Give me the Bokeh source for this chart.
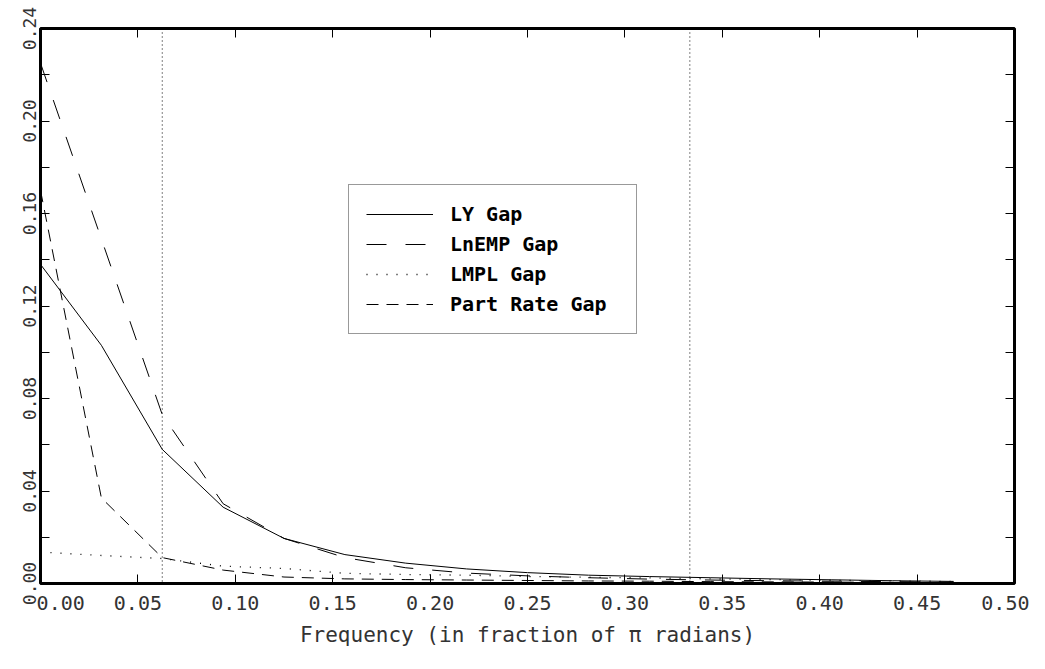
from bokeh.plotting import figure
from bokeh.models import (Range1d, FixedTicker, LinearAxis, Span, Legend, LegendItem)
from bokeh.embed import file_html
from bokeh.resources import INLINE

# ---- data ----
freq = [0.0, 0.03125, 0.0625, 0.09375, 0.125, 0.15625, 0.1875, 0.21875,
        0.25, 0.28125, 0.3125, 0.34375, 0.375, 0.40625, 0.4375, 0.46875]
ly_gap = [0.138, 0.103, 0.058, 0.033, 0.0195, 0.0125, 0.0088, 0.0063,
          0.0047, 0.0036, 0.0030, 0.0025, 0.0020, 0.0016, 0.0012, 0.0009]
lnemp_gap = [0.225, 0.149, 0.073, 0.0345, 0.0195, 0.0112, 0.0068, 0.0045,
             0.0033, 0.0025, 0.0019, 0.0015, 0.0012, 0.0010, 0.0008, 0.0006]
lmpl_gap = [0.0136, 0.0121, 0.0108, 0.0075, 0.0065, 0.0044, 0.0039, 0.0036,
            0.0030, 0.0027, 0.0024, 0.0020, 0.0017, 0.0014, 0.0011, 0.0009]
part_rate_gap = [0.170, 0.037, 0.0112, 0.0058, 0.0028, 0.0020, 0.0017, 0.0015,
                 0.0013, 0.0011, 0.0010, 0.0008, 0.0007, 0.0006, 0.0005, 0.0004]
series_names = ["LY Gap", "LnEMP Gap", "LMPL Gap", "Part Rate Gap"]
band_edges = [0.0625, 1.0 / 3.0]

x_ticks = [0.0, 0.05, 0.10, 0.15, 0.20, 0.25, 0.30, 0.35, 0.40, 0.45, 0.50]
x_tick_labels = ["0.00", "0.05", "0.10", "0.15", "0.20", "0.25", "0.30",
                 "0.35", "0.40", "0.45", "0.50"]
y_ticks = [0.0, 0.04, 0.08, 0.12, 0.16, 0.20, 0.24]
y_tick_labels = ["0.00", "0.04", "0.08", "0.12", "0.16", "0.20", "0.24"]
y_minor_ticks = [0.02, 0.06, 0.10, 0.14, 0.18, 0.22]
x_title = "Frequency (in fraction of \u03c0 radians)"

FONT = "DejaVu Sans Mono"
LBL = "#333333"
NBSP = "\u00a0"

p = figure(width=1029, height=653, output_backend="svg", toolbar_location=None,
           x_range=Range1d(0, 0.5), y_range=Range1d(0, 0.24),
           min_border_left=40, min_border_right=15, min_border_top=28,
           min_border_bottom=70, x_axis_location=None, y_axis_location=None)
p.grid.visible = False
p.outline_line_color = "black"
p.outline_line_width = 3
p.background_fill_color = "white"
p.border_fill_color = "white"

# bottom axis; the first label is pushed right (as in the reference) so it
# does not collide with the vertical "0.00" of the y axis
x_over = {t: l for t, l in zip(x_ticks, x_tick_labels)}
x_over[x_ticks[0]] = NBSP * 3 + x_tick_labels[0]
xb = LinearAxis(ticker=FixedTicker(ticks=x_ticks), major_label_overrides=x_over)
xb.axis_line_color = None
xb.major_tick_in = 9
xb.major_tick_out = 0
xb.major_tick_line_width = 1
xb.minor_tick_line_color = None
xb.major_label_standoff = 7
xb.major_label_text_font = FONT
xb.major_label_text_font_size = "20px"
xb.major_label_text_color = LBL
xb.axis_label = x_title
xb.axis_label_standoff = 5
xb.axis_label_text_font = FONT
xb.axis_label_text_font_size = "21px"
xb.axis_label_text_font_style = "normal"
xb.axis_label_text_color = LBL
p.add_layout(xb, "below")

# top axis (ticks only)
xt = LinearAxis(ticker=FixedTicker(ticks=x_ticks))
xt.axis_line_color = None
xt.major_tick_in = 9
xt.major_tick_out = 0
xt.minor_tick_line_color = None
xt.major_label_text_font_size = "1px"
xt.major_label_text_color = None
xt.major_label_standoff = 0
p.add_layout(xt, "above")

# left axis
yl = LinearAxis(ticker=FixedTicker(ticks=y_ticks, minor_ticks=y_minor_ticks),
                major_label_overrides={t: l for t, l in zip(y_ticks, y_tick_labels)})
yl.axis_line_color = None
yl.major_tick_in = 9
yl.major_tick_out = 0
yl.minor_tick_in = 9
yl.minor_tick_out = 0
yl.major_label_orientation = "vertical"
yl.major_label_standoff = 5
yl.major_label_text_font = FONT
yl.major_label_text_font_size = "18px"
yl.major_label_text_color = LBL
p.add_layout(yl, "left")

# right axis (ticks only)
yr = LinearAxis(ticker=FixedTicker(ticks=y_ticks, minor_ticks=y_minor_ticks))
yr.axis_line_color = None
yr.major_tick_in = 9
yr.major_tick_out = 0
yr.minor_tick_in = 9
yr.minor_tick_out = 0
yr.major_label_text_font_size = "1px"
yr.major_label_text_color = None
yr.major_label_standoff = 0
p.add_layout(yr, "right")

# band edges
for b in band_edges:
    p.add_layout(Span(location=b, dimension="height", line_color="black",
                      line_width=1, line_dash="1 3"))

r1 = p.line(freq, ly_gap, line_color="black", line_width=1)
r2 = p.line(freq, lnemp_gap, line_color="black", line_width=1, line_dash="20 19")
r3 = p.line(freq, lmpl_gap, line_color="black", line_width=1.3, line_dash="1 9")
r4 = p.line(freq, part_rate_gap, line_color="black", line_width=1, line_dash="12 8")

legend = Legend(items=[LegendItem(label=n, renderers=[r])
                       for n, r in zip(series_names, [r1, r2, r3, r4])],
                location=(308, 249))
legend.glyph_width = 67
legend.glyph_height = 20
legend.label_standoff = 17
legend.label_width = 169
legend.label_height = 20
legend.spacing = 6
legend.padding = 17
legend.margin = 0
legend.border_line_color = "#333333"
legend.border_line_width = 1
legend.background_fill_color = "white"
legend.background_fill_alpha = 1
legend.label_text_font = FONT
legend.label_text_font_size = "20px"
legend.label_text_font_style = "bold"
legend.label_text_color = "black"
p.add_layout(legend, "center")

open("out.html", "w").write(file_html(p, INLINE))
